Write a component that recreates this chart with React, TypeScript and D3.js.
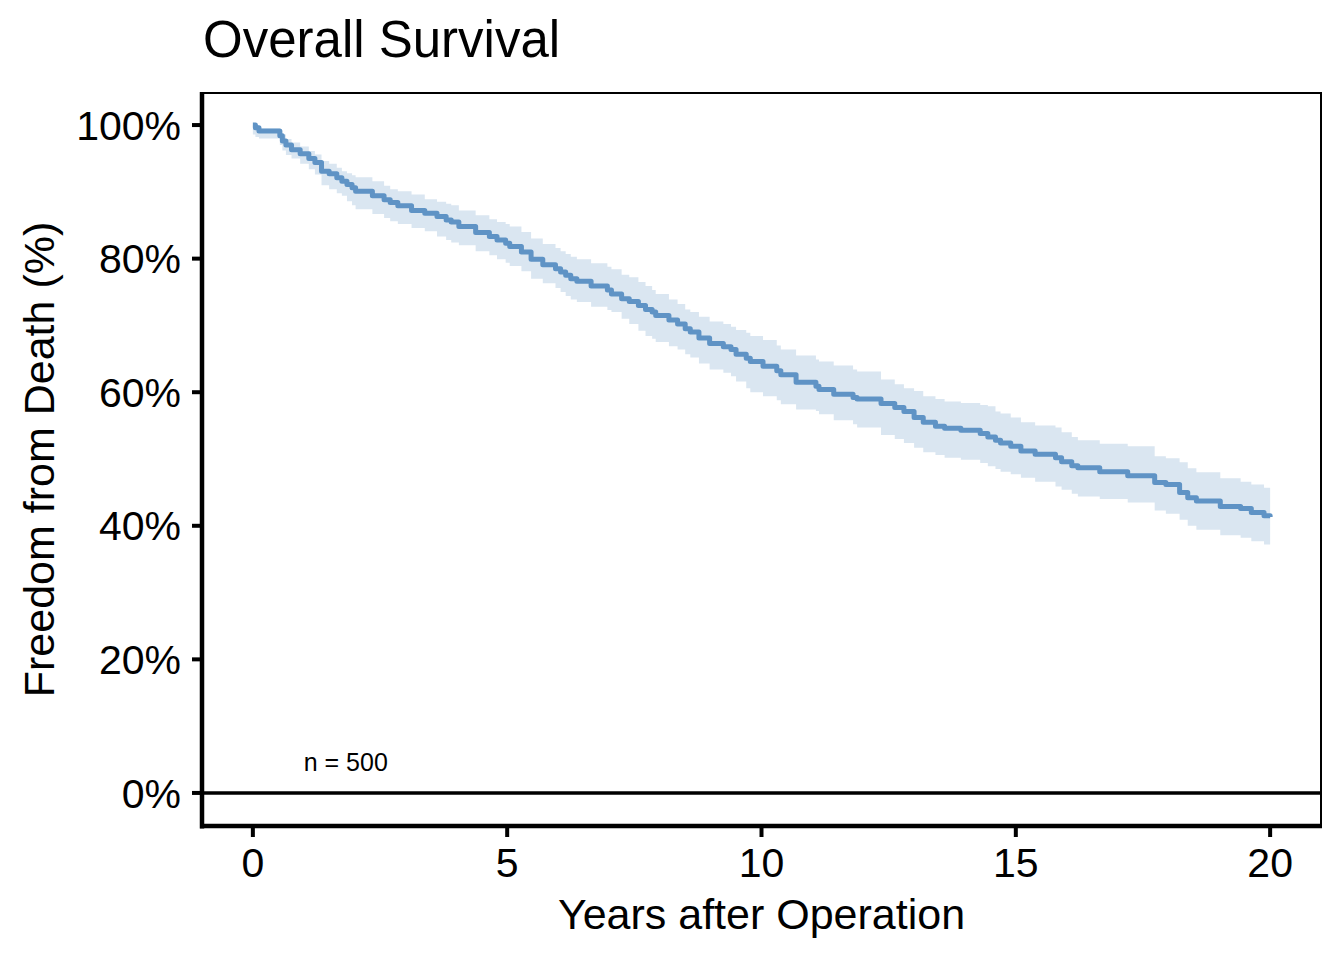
import React from "react";
import * as d3 from "d3";

// Kaplan-Meier step data (years, survival %), with 95% CI bounds
const times = [0.0, 0.05, 0.12, 0.53, 0.58, 0.65, 0.76, 0.93, 1.1, 1.22, 1.35, 1.5, 1.65, 1.75, 1.85, 1.95, 2.02, 2.35, 2.58, 2.7, 2.85, 3.12, 3.38, 3.62, 3.8, 3.9, 4.05, 4.38, 4.65, 4.8, 4.97, 5.05, 5.28, 5.47, 5.7, 5.95, 6.05, 6.15, 6.25, 6.37, 6.65, 6.97, 7.05, 7.25, 7.4, 7.58, 7.72, 7.85, 7.92, 8.18, 8.35, 8.5, 8.6, 8.77, 8.98, 9.25, 9.4, 9.5, 9.7, 9.78, 10.03, 10.3, 10.38, 10.68, 11.07, 11.13, 11.42, 11.8, 11.88, 12.35, 12.62, 12.8, 13.0, 13.18, 13.42, 13.6, 13.92, 14.3, 14.45, 14.6, 14.7, 14.9, 15.1, 15.38, 15.78, 15.9, 16.1, 16.22, 16.65, 17.2, 17.73, 17.95, 18.22, 18.38, 18.55, 19.02, 19.42, 19.63, 19.88, 20.0];
const survival = [100.0, 99.6, 99.1, 98.4, 97.6, 97.0, 96.3, 95.7, 95.0, 94.4, 93.1, 92.7, 92.1, 91.6, 91.1, 90.6, 90.1, 89.4, 88.8, 88.4, 87.9, 87.2, 86.8, 86.3, 85.8, 85.5, 84.8, 83.9, 83.3, 82.8, 82.3, 81.8, 81.0, 79.9, 79.1, 78.5, 78.0, 77.5, 77.0, 76.6, 75.9, 75.3, 74.7, 74.0, 73.6, 73.0, 72.4, 72.0, 71.5, 70.8, 70.2, 69.5, 69.0, 68.1, 67.3, 66.8, 66.4, 65.7, 65.1, 64.6, 63.9, 63.2, 62.6, 61.5, 60.9, 60.4, 59.7, 59.2, 59.0, 58.3, 57.7, 57.1, 56.2, 55.5, 54.9, 54.6, 54.3, 53.8, 53.3, 52.8, 52.4, 51.9, 51.2, 50.7, 50.2, 49.6, 49.0, 48.7, 48.1, 47.5, 46.5, 46.2, 45.0, 44.2, 43.7, 42.9, 42.6, 42.0, 41.5, 41.3];
const upperCI = [100.0, 100.0, 99.5, 99.2, 98.6, 97.9, 97.4, 96.8, 96.1, 95.6, 94.6, 94.2, 93.6, 93.1, 92.8, 92.5, 92.2, 91.6, 90.9, 90.4, 90.1, 89.6, 88.9, 88.5, 88.2, 88.0, 87.2, 86.5, 85.9, 85.5, 85.2, 84.8, 84.0, 83.0, 82.2, 81.6, 81.1, 80.7, 80.3, 79.9, 79.3, 78.8, 78.4, 77.6, 77.2, 76.5, 75.9, 75.3, 74.7, 73.9, 73.2, 72.4, 72.0, 71.3, 70.6, 70.2, 69.8, 69.3, 68.9, 68.4, 67.8, 67.0, 66.4, 65.5, 64.9, 64.6, 64.0, 63.4, 63.1, 61.9, 61.2, 60.6, 60.2, 59.4, 59.0, 58.6, 58.4, 58.1, 57.9, 57.1, 56.8, 56.2, 55.5, 55.0, 54.7, 54.0, 53.3, 52.8, 52.3, 51.9, 50.4, 50.1, 49.5, 48.6, 48.0, 47.1, 46.6, 46.2, 45.7, 45.6];
const lowerCI = [98.6, 98.2, 98.0, 97.0, 96.2, 95.5, 95.0, 94.2, 93.4, 92.6, 91.0, 90.4, 89.8, 89.4, 88.6, 88.0, 87.4, 86.7, 86.1, 85.6, 85.2, 84.6, 84.1, 83.3, 82.8, 82.4, 82.0, 81.1, 80.5, 79.9, 79.4, 78.9, 78.1, 77.0, 76.3, 75.6, 75.0, 74.4, 73.9, 73.5, 72.8, 72.3, 72.0, 71.0, 70.2, 69.2, 68.4, 68.0, 67.5, 66.9, 66.4, 65.7, 65.2, 64.3, 63.4, 62.9, 62.4, 61.6, 60.6, 60.0, 59.4, 58.8, 58.2, 57.4, 57.2, 56.7, 55.8, 55.2, 54.7, 53.6, 53.0, 52.4, 51.7, 51.0, 50.6, 50.2, 49.9, 49.4, 48.9, 48.5, 48.1, 47.7, 47.2, 46.6, 45.9, 45.4, 44.8, 44.4, 44.0, 43.5, 42.3, 41.8, 40.9, 40.0, 39.4, 38.6, 38.2, 37.7, 37.2, 37.0];

const xTicks = [0, 5, 10, 15, 20];
const yTicks = [0, 20, 40, 60, 80, 100];
const titleText = "Overall Survival";
const xTitle = "Years after Operation";
const yTitle = "Freedom from Death (%)";
const nLabel = "n = 500";

const W = 1344;
const H = 960;
const PL = 202, PR = 1321, PT = 93, PB = 826;
const FONT = "'Liberation Sans', Arial, Helvetica, sans-serif";

export default function App() {
  const x = d3.scaleLinear().domain([-1, 21]).range([PL, PR]);
  const y = d3.scaleLinear().domain([-4.95, 104.8]).range([PB, PT]);

  const pts = times.map((t, i) => ({ t, s: survival[i], lo: lowerCI[i], hi: upperCI[i] }));

  const line = d3
    .line<any>()
    .x((d) => x(d.t))
    .y((d) => y(d.s))
    .curve(d3.curveStepAfter);
  const area = d3
    .area<any>()
    .x((d) => x(d.t))
    .y0((d) => y(d.lo))
    .y1((d) => y(d.hi))
    .curve(d3.curveStepAfter);

  return (
    <svg
      width={W}
      height={H}
      style={{ position: "absolute", left: 0, top: 0, background: "#fff" }}
      fontFamily={FONT}
    >
      <rect x={0} y={0} width={W} height={H} fill="#fff" />
      <text x={203} y={57} fontSize={51} fill="#000">
        {titleText}
      </text>

      {/* panel border */}
      <rect x={PL} y={PT} width={PR - PL} height={PB - PT} fill="none" stroke="#000" strokeWidth={2} />

      {/* CI band and curve */}
      <path d={area(pts) || ""} fill="#dae6f1" stroke="none" />
      <path d={line(pts) || ""} fill="none" stroke="#5f93c5" strokeWidth={5} strokeLinejoin="round" />

      {/* zero reference line */}
      <line x1={PL} x2={PR} y1={y(0)} y2={y(0)} stroke="#000" strokeWidth={3.5} />

      {/* axis lines */}
      <line x1={PL} x2={PL} y1={PT - 1} y2={PB + 2.5} stroke="#000" strokeWidth={4.5} />
      <line x1={PL - 2} x2={PR + 1} y1={PB} y2={PB} stroke="#000" strokeWidth={4.5} />

      {/* y ticks */}
      {yTicks.map((v) => (
        <g key={"y" + v}>
          <line x1={PL - 10} x2={PL} y1={y(v)} y2={y(v)} stroke="#000" strokeWidth={4} />
          <text x={181} y={y(v) + 14.7} fontSize={41} textAnchor="end" fill="#000">
            {v + "%"}
          </text>
        </g>
      ))}

      {/* x ticks */}
      {xTicks.map((v) => (
        <g key={"x" + v}>
          <line x1={x(v)} x2={x(v)} y1={PB} y2={PB + 11} stroke="#000" strokeWidth={4} />
          <text x={x(v)} y={877} fontSize={41} textAnchor="middle" fill="#000">
            {v}
          </text>
        </g>
      ))}

      <text x={(PL + PR) / 2} y={929} fontSize={43} textAnchor="middle" fill="#000">
        {xTitle}
      </text>
      <text
        transform={`translate(54, ${(PT + PB) / 2}) rotate(-90)`}
        fontSize={43}
        textAnchor="middle"
        fill="#000"
      >
        {yTitle}
      </text>

      <text x={x(1)} y={771} fontSize={25} fill="#000">
        {nLabel}
      </text>
    </svg>
  );
}
